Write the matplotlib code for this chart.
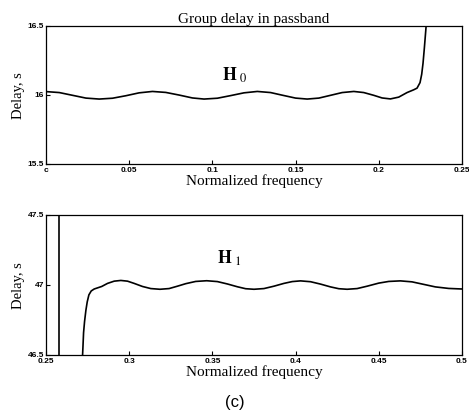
import matplotlib
matplotlib.use("Agg")
import matplotlib.pyplot as plt
from matplotlib.transforms import ScaledTranslation

# H0 group delay
h0_freq = [0.000, 0.008, 0.016, 0.024, 0.032, 0.040, 0.048, 0.056, 0.064,
           0.072, 0.080, 0.088, 0.095, 0.103, 0.111, 0.119, 0.127, 0.135,
           0.142, 0.150, 0.157, 0.164, 0.171, 0.178, 0.185, 0.191, 0.197,
           0.202, 0.207, 0.212, 0.217, 0.221, 0.223, 0.2248, 0.2258, 0.2266,
           0.2274, 0.2282, 0.2290]
h0_delay = [16.025, 16.018, 15.998, 15.978, 15.971, 15.977, 15.995, 16.016, 16.026,
            16.019, 16.000, 15.979, 15.971, 15.977, 15.996, 16.016, 16.026, 16.018,
            15.999, 15.978, 15.971, 15.978, 15.998, 16.018, 16.026, 16.018, 15.998,
            15.979, 15.972, 15.985, 16.018, 16.038, 16.050, 16.09, 16.15, 16.23,
            16.34, 16.46, 16.58]

# H1 group delay
h1_freq = [0.2718, 0.2722, 0.2726, 0.2732, 0.2740, 0.2748, 0.2758, 0.2772, 0.2790,
           0.2810, 0.2835, 0.2870, 0.2910, 0.2950, 0.2990, 0.3030, 0.3080, 0.3130,
           0.3185, 0.3240, 0.3290, 0.3340, 0.3400, 0.3466, 0.3530, 0.3590, 0.3650,
           0.3700, 0.3750, 0.3810, 0.3870, 0.3930, 0.3980, 0.4030, 0.4090, 0.4150,
           0.4210, 0.4260, 0.4310, 0.4370, 0.4430, 0.4500, 0.4560, 0.4630, 0.4700,
           0.4770, 0.4840, 0.4920, 0.5000]
h1_delay = [46.45, 46.55, 46.66, 46.74, 46.82, 46.88, 46.93, 46.958, 46.972,
            46.980, 46.990, 47.012, 47.028, 47.033, 47.028, 47.012, 46.990, 46.975,
            46.970, 46.975, 46.992, 47.010, 47.026, 47.031, 47.025, 47.008, 46.988,
            46.974, 46.970, 46.975, 46.992, 47.012, 47.025, 47.030, 47.024, 47.007,
            46.987, 46.974, 46.970, 46.975, 46.992, 47.014, 47.026, 47.030, 47.023,
            47.005, 46.987, 46.976, 46.972]
# spike crossing the whole range near 0.2576
h1_spike_freq = [0.2576, 0.2576]
h1_spike_delay = [46.0, 48.0]

top_ticks = [0, 0.05, 0.1, 0.15, 0.2, 0.25]
top_ticklabels = ["c", "0.05", "0.1", "0.15", "0.2", "0.25"]
bot_ticks = [0.25, 0.3, 0.35, 0.4, 0.45, 0.5]
bot_ticklabels = ["0.25", "0.3", "0.35", "0.4", "0.45", "0.5"]

serif = "Liberation Serif"
sans = "Liberation Sans"

fig = plt.figure(figsize=(4.69, 4.14), dpi=100)
ax1 = fig.add_axes([0.098, 0.601, 0.887, 0.334])
ax2 = fig.add_axes([0.098, 0.140, 0.887, 0.338])


def style(ax):
    ax.tick_params(direction="in", length=3, width=0.8, pad=1.5,
                   labelsize=6)
    # y labels sit a touch above their ticks in the scan
    up = ScaledTranslation(0, 1.2 / 72, fig.dpi_scale_trans)
    for lab in ax.get_yticklabels():
        lab.set_transform(lab.get_transform() + up)
    for lab in ax.get_xticklabels() + ax.get_yticklabels():
        lab.set_fontfamily(sans)
        lab.set_fontweight("bold")
    for s in ax.spines.values():
        s.set_linewidth(0.9)


# top: H0
ax1.plot(h0_freq, h0_delay, color="black", lw=1.2)
ax1.set_xlim(0, 0.25)
ax1.set_ylim(15.5, 16.5)
ax1.set_xticks(top_ticks)
ax1.set_xticklabels(top_ticklabels)
ax1.set_yticks([15.5, 16, 16.5])
ax1.set_yticklabels(["15.5", "16", "16.5"])
style(ax1)
ax1.set_title("Group delay in passband", family=serif, fontsize=11, pad=3)
ax1.set_xlabel("Normalized frequency", family=serif, fontsize=11, labelpad=0)
ax1.set_ylabel("Delay, s", family=serif, fontsize=10.5, labelpad=2)
ax1.text(0.106, 16.15, r"$\mathbf{H}_{\ 0}$", fontsize=13,
         ha="left", va="center", math_fontfamily="stix")

# bottom: H1
ax2.plot(h1_spike_freq, h1_spike_delay, color="black", lw=1.2)
ax2.plot(h1_freq, h1_delay, color="black", lw=1.2)
ax2.set_xlim(0.25, 0.5)
ax2.set_ylim(46.5, 47.5)
ax2.set_xticks(bot_ticks)
ax2.set_xticklabels(bot_ticklabels)
ax2.set_yticks([46.5, 47, 47.5])
ax2.set_yticklabels(["46.5", "47", "47.5"])
style(ax2)
ax2.set_xlabel("Normalized frequency", family=serif, fontsize=11, labelpad=0)
ax2.set_ylabel("Delay, s", family=serif, fontsize=10.5, labelpad=2)
ax2.text(0.353, 47.2, r"$\mathbf{H}_{\ 1}$", fontsize=13,
         ha="left", va="center", math_fontfamily="stix")

fig.text(0.5, 0.027, "(c)", family=sans, fontsize=12, ha="center", va="center")

fig.savefig("out.png", dpi=100)
